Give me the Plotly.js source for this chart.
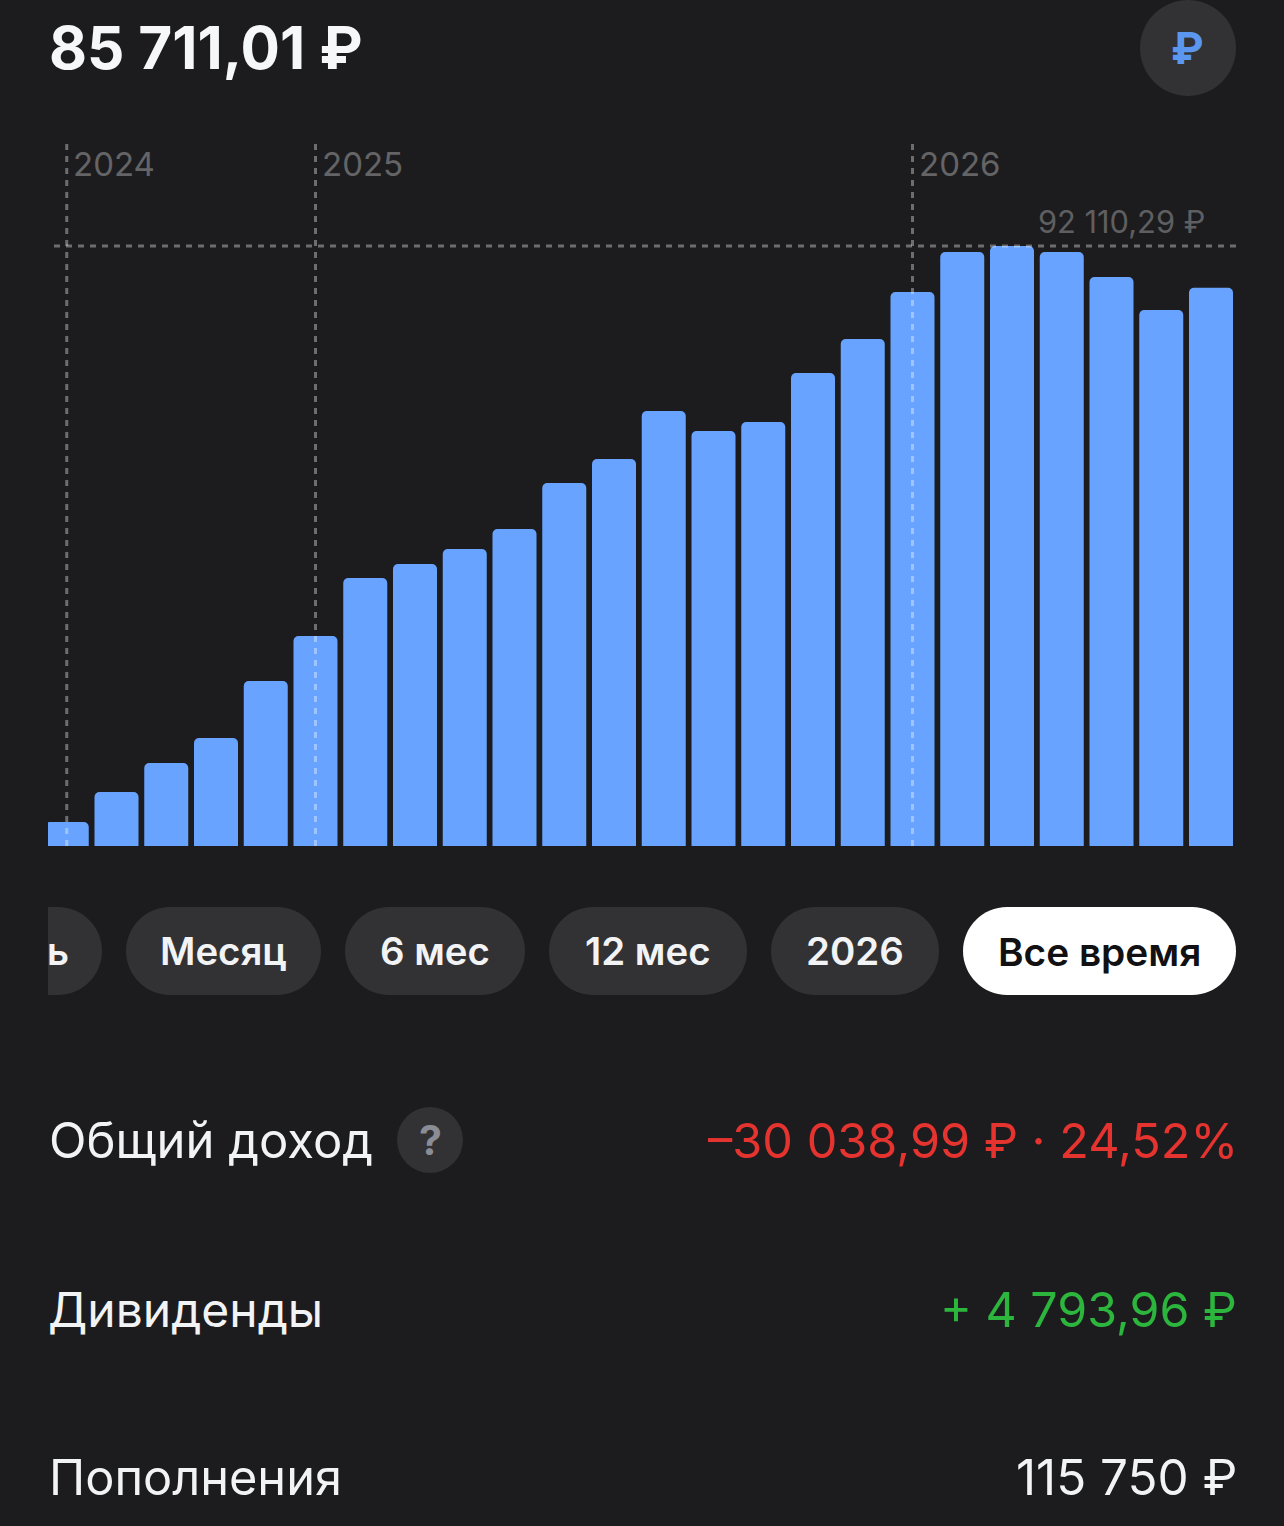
<!DOCTYPE html>
<html><head><meta charset="utf-8">
<script src="https://cdn.plot.ly/plotly-3.0.1.min.js"></script>
<style>html,body{margin:0;padding:0;background:#1c1c1e;overflow:hidden}#c{width:1284px;height:1526px}</style>
</head><body><div id="c"></div>
<script>
const months = ["2024-08","2024-09","2024-10","2024-11","2024-12","2025-01","2025-02","2025-03","2025-04","2025-05","2025-06","2025-07","2025-08","2025-09","2025-10","2025-11","2025-12","2026-01","2026-02","2026-03","2026-04","2026-05","2026-06","2026-07"];
const balance = [3684,8290,12742,16580,25330,32239,41143,43292,45595,48665,55727,59411,66780,63710,65091,72614,77833,85048,91189,92110.29,91189,87351,82285,85711.01];
const yearMarks = ["2024-08","2025-01","2026-01"];
const yearLabels = ["2024","2025","2026"];
const peak = 92110.29;
const peakLabel = "92 110,29 ₽";
const totalLabel = "85 711,01 ₽";
const periods = ["ь","Месяц","6 мес","12 мес","2026","Все время"];
const rowLabels = ["Общий доход","Дивиденды","Пополнения"];
const rowValues = ["–30 038,99 ₽ · 24,52%","+ 4 793,96 ₽","115 750 ₽"];

const W=1284,H=1526,F="Inter, 'Noto Sans', sans-serif";
const px=x=>x/W, py=y=>1-y/H;
const BG="#1c1c1e",CHIP="#323234",BAR="#68a4ff",DASH="rgba(255,255,255,0.36)";
function text(t,x,y,size,color,anchor,weight){
  return {text:t,xref:"paper",yref:"paper",x:px(x),y:py(y),xanchor:anchor||"left",yanchor:"middle",showarrow:false,
    font:{family:F,size:size,color:color,weight:weight||400},borderpad:0,borderwidth:0};
}
function pill(x0,x1,y0,y1,color,flatLeft){
  const r=(y1-y0)/2,k=0.45*r;
  const P=(x,y)=>px(x)+","+py(y);
  let d;
  if(flatLeft){ d="M"+P(x0,y0); } else { d="M"+P(x0+r,y0); }
  d+=" L"+P(x1-r,y0)+" C"+P(x1-k,y0)+" "+P(x1,y0+k)+" "+P(x1,y0+r)+" C"+P(x1,y1-k)+" "+P(x1-k,y1)+" "+P(x1-r,y1);
  if(flatLeft){ d+=" L"+P(x0,y1)+" Z"; }
  else { d+=" L"+P(x0+r,y1)+" C"+P(x0+k,y1)+" "+P(x0,y1-k)+" "+P(x0,y0+r)+" C"+P(x0,y0+k)+" "+P(x0+k,y0)+" "+P(x0+r,y0)+" Z"; }
  return {type:"path",xref:"paper",yref:"paper",path:d,fillcolor:color,line:{width:0},layer:"below"};
}
function circle(cx,cy,r,color){
  return {type:"circle",xref:"paper",yref:"paper",x0:px(cx-r),x1:px(cx+r),y0:py(cy+r),y1:py(cy-r),fillcolor:color,line:{width:0},layer:"below"};
}
const dash="6px,6px";
const chips=[[48,102],[126,321],[345,525],[549,747],[771,939],[963,1236]];
const shapes=[
  circle(1188,48,48,CHIP), circle(430,1140,33,CHIP),
  ...chips.map((c,i)=>pill(c[0],c[1],907,995,i===5?"#ffffff":CHIP,i===0)),
  ...yearMarks.map(m=>({type:"line",xref:"x",yref:"paper",x0:m,x1:m,y0:py(846),y1:py(144),line:{color:DASH,width:3,dash:dash},layer:"above"})),
  {type:"line",xref:"paper",yref:"y",x0:px(54),x1:px(1237),y0:peak,y1:peak,line:{color:DASH,width:3,dash:dash},layer:"above"}
];
const annotations=[
  text(totalLabel,49,47,58.5,"#f6f7f9","left",700),
  text("₽",1187,48,44,"#5b97ef","center",700),
  text("?",430,1140,41,"#8a8d96","center",700),
  ...yearMarks.map((m,i)=>({text:yearLabels[i],xref:"x",yref:"paper",x:m,y:py(164),xanchor:"left",yanchor:"middle",xshift:4,showarrow:false,font:{family:F,size:33,color:"#646466"}})),
  text(peakLabel,1205,222,30.8,"#5f5f61","right"),
  ...periods.map((p,i)=>{
    const c=chips[i];
    return i===0 ? text(p,47,951,38,"#f2f3f5","left",600)
                 : text(p,(c[0]+c[1])/2,951,i===5?38.8:38.4,i===5?"#111114":"#f2f3f5","center",600);
  }),
  text(rowLabels[0],49,1140,49,"#f2f3f5"),
  text(rowLabels[1],48,1309,48,"#f2f3f5"),
  text(rowLabels[2],49,1477,48.7,"#f2f3f5"),
  text(rowValues[0],1238,1140,48.6,"#e5332f","right"),
  text(rowValues[1],1237,1309,48.3,"#2cb63d","right"),
  text(rowValues[2],1237,1477,49.4,"#f2f3f5","right")
];
const unit=49.75, c0=66.75, barW=44;
Plotly.newPlot("c",[{
  type:"bar",x:months,y:balance,width:barW/unit,marker:{color:BAR,line:{width:0},cornerradius:5},hoverinfo:"skip"
}],{
  width:W,height:H,margin:{l:0,r:0,t:0,b:0,pad:0},paper_bgcolor:BG,plot_bgcolor:"rgba(0,0,0,0)",showlegend:false,
  xaxis:{type:"category",categoryorder:"array",categoryarray:months,domain:[px(48),1],range:[(48-c0)/unit,(W-c0)/unit],visible:false,fixedrange:true},
  yaxis:{domain:[py(846),py(144)],range:[0,peak*(846-144)/600],visible:false,fixedrange:true},
  shapes:shapes,annotations:annotations
},{staticPlot:true,displayModeBar:false});
</script></body></html>
